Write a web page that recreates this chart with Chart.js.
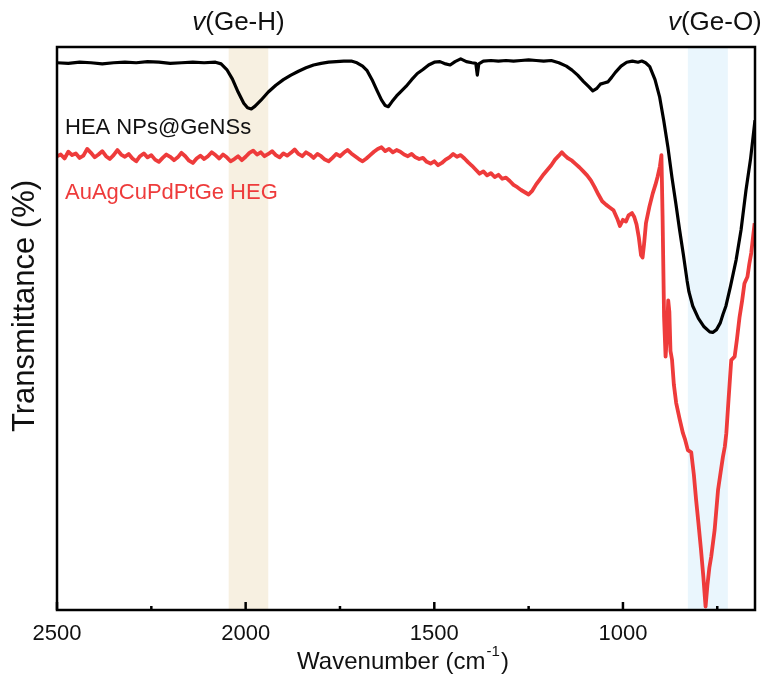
<!DOCTYPE html>
<html>
<head>
<meta charset="utf-8">
<script src="https://cdn.jsdelivr.net/npm/chart.js@4.4.1/dist/chart.umd.min.js"></script>
<style>
body { margin: 0; background: #fff; }
#wrap { width: 769px; height: 676px; position: relative; }
</style>
</head>
<body>
<div id="wrap"><canvas id="ftir"></canvas></div>
<script>
// wavenumber (cm-1) and transmittance (arb. %, 0-100 of the frame)
const blackWn = [2500, 2470, 2440, 2410, 2380, 2350, 2320, 2290, 2260, 2230, 2200, 2170, 2140, 2110, 2080, 2065, 2050, 2035, 2020, 2005, 1995, 1985, 1975, 1960, 1940, 1920, 1900, 1880, 1860, 1840, 1820, 1800, 1780, 1760, 1740, 1720, 1705, 1690, 1678, 1665, 1652, 1640, 1630, 1622, 1612, 1600, 1590, 1575, 1560, 1545, 1530, 1515, 1500, 1485, 1470, 1458, 1445, 1430, 1415, 1400, 1390, 1386, 1382, 1370, 1350, 1330, 1310, 1290, 1270, 1250, 1230, 1210, 1190, 1170, 1150, 1135, 1120, 1105, 1090, 1080, 1070, 1060, 1050, 1040, 1030, 1020, 1005, 990, 975, 960, 950, 940, 929, 915, 903, 892, 881, 870, 860, 850, 840, 830, 825, 815, 800, 785, 770, 762, 752, 742, 735, 727, 715, 700, 687, 674, 662, 656, 650];
const blackT = [97.2, 97.1, 97.3, 97.2, 97.0, 97.2, 97.3, 97.2, 97.4, 97.3, 97.1, 97.2, 97.3, 97.2, 97.3, 97.0, 96.0, 94.3, 92.0, 90.0, 89.2, 89.0, 89.5, 90.5, 92.0, 93.2, 94.2, 95.0, 95.7, 96.3, 96.8, 97.1, 97.3, 97.4, 97.5, 97.5, 97.2, 96.6, 95.8, 94.2, 92.3, 90.6, 89.6, 89.4, 90.3, 91.3, 92.0, 93.0, 94.2, 95.3, 96.0, 96.8, 97.3, 97.4, 97.0, 96.8, 97.4, 97.9, 97.4, 97.2, 97.1, 95.0, 97.0, 97.5, 97.6, 97.5, 97.6, 97.5, 97.6, 97.7, 97.6, 97.5, 97.6, 97.2, 96.6, 95.9, 95.0, 93.9, 92.9, 92.2, 92.6, 93.4, 93.6, 93.8, 94.6, 95.5, 96.6, 97.3, 97.5, 97.3, 97.5, 97.2, 96.5, 94.2, 91.2, 87.0, 82.3, 76.8, 72.3, 67.6, 63.2, 58.5, 56.5, 54.0, 51.8, 50.3, 49.4, 49.3, 49.8, 51.0, 52.5, 54.0, 57.5, 62.2, 67.5, 74.5, 80.0, 83.5, 87.0];

const redWn = [2500, 2490, 2480, 2470, 2460, 2450, 2440, 2430, 2420, 2410, 2400, 2390, 2380, 2370, 2360, 2350, 2340, 2330, 2320, 2310, 2300, 2290, 2280, 2270, 2260, 2250, 2240, 2230, 2220, 2210, 2200, 2190, 2180, 2170, 2160, 2150, 2140, 2130, 2120, 2110, 2100, 2090, 2080, 2070, 2060, 2050, 2040, 2030, 2020, 2010, 2000, 1990, 1980, 1970, 1960, 1950, 1940, 1930, 1920, 1910, 1900, 1890, 1880, 1870, 1860, 1850, 1840, 1830, 1820, 1810, 1800, 1790, 1780, 1770, 1760, 1750, 1740, 1730, 1720, 1710, 1700, 1690, 1680, 1670, 1660, 1650, 1640, 1630, 1620, 1610, 1600, 1590, 1580, 1570, 1560, 1550, 1540, 1530, 1520, 1510, 1500, 1490, 1480, 1470, 1460, 1450, 1440, 1430, 1420, 1410, 1400, 1390, 1380, 1370, 1360, 1350, 1340, 1330, 1320, 1310, 1300, 1290, 1280, 1270, 1260, 1250, 1240, 1230, 1220, 1210, 1200, 1190, 1180, 1170, 1162, 1155, 1145, 1135, 1125, 1115, 1105, 1095, 1085, 1075, 1065, 1055, 1045, 1035, 1025, 1015, 1008, 1000, 992, 985, 976, 970, 964, 958, 952, 948, 944, 939, 930, 921, 914, 908, 902, 898, 895, 891, 887, 884, 880, 877, 874, 870, 865, 859, 850, 841, 835, 828, 819, 812, 806, 800, 793, 787, 781, 776, 771, 766, 757, 748, 741, 735, 730, 726, 720, 713, 704, 698, 691, 684, 678, 670, 665, 660, 651];
const redT = [80.6, 80.9, 80.2, 81.4, 80.8, 81.1, 80.3, 80.7, 81.9, 81.2, 80.4, 80.9, 81.5, 80.6, 80.1, 80.8, 81.7, 80.9, 80.5, 81.0, 80.2, 79.7, 80.6, 81.1, 80.4, 80.8, 80.0, 79.6, 80.3, 80.9, 80.5, 79.9, 80.4, 81.2, 80.6, 79.8, 79.4, 80.2, 80.7, 80.1, 80.6, 81.3, 80.8, 80.2, 80.9, 80.4, 79.7, 80.1, 80.6, 79.9, 80.5, 81.2, 81.6, 80.9, 81.3, 80.6, 81.0, 81.5, 80.8, 80.4, 81.1, 80.7, 81.2, 81.8, 81.0, 80.6, 81.3, 80.9, 80.3, 81.0, 80.6, 80.0, 79.7, 80.3, 81.0, 80.6, 81.2, 81.7, 81.1, 80.6, 80.1, 79.7, 80.2, 80.8, 81.4, 81.9, 82.2, 81.5, 81.9, 81.3, 81.7, 81.4, 80.9, 80.6, 81.0, 80.4, 80.1, 80.3, 79.6, 79.3, 79.7, 79.0, 79.4, 80.0, 80.4, 81.0, 80.5, 80.8, 80.2, 79.5, 78.9, 78.2, 77.5, 77.9, 77.2, 77.6, 76.9, 77.3, 76.6, 76.8, 76.2, 75.5, 75.1, 74.6, 74.2, 73.8, 74.5, 75.6, 76.5, 77.4, 78.2, 79.0, 80.0, 80.7, 81.3, 80.8, 80.2, 79.8, 79.2, 78.6, 77.9, 77.2, 76.3, 75.1, 73.8, 72.6, 72.0, 71.5, 71.0, 69.5, 68.2, 69.3, 69.0, 70.1, 70.5, 69.8, 68.5, 66.2, 63.0, 62.6, 65.0, 68.7, 71.6, 74.0, 75.5, 77.0, 78.8, 80.8, 70.0, 52.0, 45.0, 48.0, 55.0, 53.0, 46.0, 44.5, 40.0, 36.8, 34.0, 31.4, 30.2, 28.4, 28.0, 24.0, 19.5, 15.5, 10.6, 6.0, 0.6, 4.5, 7.5, 9.5, 14.2, 21.3, 24.5, 27.2, 29.0, 31.4, 37.5, 44.4, 45.0, 48.0, 52.0, 55.0, 58.0, 59.2, 61.5, 63.4, 68.7];

const seriesNames = ['HEA NPs@GeNSs', 'AuAgCuPdPtGe HEG'];
const majorTicks = [2500, 2000, 1500, 1000];
const minorTicks = [2250, 1750, 1250, 750];
const bandGeH = [2045, 1940];
const bandGeO = [828, 722];

function pts(xs, ys) {
  return xs.map((x, i) => ({ x: x, y: ys[i] }));
}

const FONT = '"Liberation Sans", Arial, sans-serif';

const decor = {
  id: 'decor',
  beforeDatasetsDraw(chart) {
    const { ctx, chartArea: a, scales: { x } } = chart;
    ctx.save();
    ctx.fillStyle = '#f7f0e1';
    let l = x.getPixelForValue(bandGeH[0]), r = x.getPixelForValue(bandGeH[1]);
    ctx.fillRect(l, a.top, r - l, a.bottom - a.top);
    ctx.fillStyle = '#eaf6fd';
    l = x.getPixelForValue(bandGeO[0]); r = x.getPixelForValue(bandGeO[1]);
    ctx.fillRect(l, a.top, r - l, a.bottom - a.top);
    ctx.restore();
  },
  afterDatasetsDraw(chart) {
    const { ctx, chartArea: a, scales: { x } } = chart;
    ctx.save();
    // frame
    ctx.strokeStyle = '#000';
    ctx.lineWidth = 2.5;
    ctx.strokeRect(a.left, a.top, a.right - a.left, a.bottom - a.top);
    // inward ticks
    majorTicks.forEach(v => {
      const px = x.getPixelForValue(v);
      ctx.beginPath(); ctx.moveTo(px, a.bottom); ctx.lineTo(px, a.bottom - 8); ctx.stroke();
    });
    minorTicks.forEach(v => {
      const px = x.getPixelForValue(v);
      ctx.beginPath(); ctx.moveTo(px, a.bottom); ctx.lineTo(px, a.bottom - 4); ctx.stroke();
    });
    // tick labels
    ctx.fillStyle = '#111';
    ctx.font = '22px ' + FONT;
    ctx.textAlign = 'center';
    ctx.textBaseline = 'middle';
    majorTicks.forEach(v => ctx.fillText(String(v), x.getPixelForValue(v), a.bottom + 24));

    // x title with superscript
    const main = 'Wavenumber (cm', sup = '-1', end = ')';
    ctx.font = '24px ' + FONT;
    const w1 = ctx.measureText(main).width, w3 = ctx.measureText(end).width;
    ctx.font = '15px ' + FONT;
    const w2 = ctx.measureText(sup).width;
    let sx = (a.left + a.right) / 2 - 4 - (w1 + w2 + w3) / 2;
    const ty = a.bottom + 52;
    ctx.textAlign = 'left';
    ctx.font = '24px ' + FONT;
    ctx.fillText(main, sx, ty);
    ctx.font = '15px ' + FONT;
    ctx.fillText(sup, sx + w1 + 1, ty - 10);
    ctx.font = '24px ' + FONT;
    ctx.fillText(end, sx + w1 + w2 + 2, ty);

    // y title
    ctx.save();
    ctx.translate(25, 306);
    ctx.rotate(-Math.PI / 2);
    ctx.textAlign = 'center';
    ctx.font = '31px ' + FONT;
    ctx.fillText('Transmittance (%)', 0, 0);
    ctx.restore();

    // band labels
    function nuLabel(text, cx, cy) {
      ctx.font = 'italic 26px ' + FONT;
      const wv = ctx.measureText('v').width;
      ctx.font = '26px ' + FONT;
      const wt = ctx.measureText(text).width;
      const s = cx - (wv + wt) / 2;
      ctx.textAlign = 'left';
      ctx.font = 'italic 26px ' + FONT;
      ctx.fillText('v', s, cy);
      ctx.font = '26px ' + FONT;
      ctx.fillText(text, s + wv, cy);
    }
    ctx.fillStyle = '#111';
    nuLabel('(Ge-H)', x.getPixelForValue((bandGeH[0] + bandGeH[1]) / 2) - 10, 23);
    nuLabel('(Ge-O)', x.getPixelForValue((bandGeO[0] + bandGeO[1]) / 2) + 7, 23);

    // series labels
    ctx.textAlign = 'left';
    ctx.font = '22px ' + FONT;
    ctx.fillStyle = '#111';
    ctx.fillText(seriesNames[0], a.left + 8, 128);
    ctx.fillStyle = '#ee3b3b';
    ctx.fillText(seriesNames[1], a.left + 8, 193);
    ctx.restore();
  }
};

new Chart(document.getElementById('ftir'), {
  type: 'line',
  data: {
    datasets: [
      {
        label: seriesNames[0],
        data: pts(blackWn, blackT),
        borderColor: '#000',
        borderWidth: 3.2,
        borderJoinStyle: 'round',
        pointRadius: 0,
        tension: 0
      },
      {
        label: seriesNames[1],
        data: pts(redWn, redT),
        borderColor: '#ee3b3b',
        borderWidth: 3.8,
        borderJoinStyle: 'round',
        pointRadius: 0,
        tension: 0
      }
    ]
  },
  options: {
    responsive: true,
    maintainAspectRatio: false,
    animation: false,
    layout: { padding: { left: 57, right: 14, top: 47, bottom: 66 } },
    plugins: { legend: { display: false }, tooltip: { enabled: false } },
    scales: {
      x: { type: 'linear', reverse: true, min: 650, max: 2500, display: false },
      y: { min: 0, max: 100, display: false }
    }
  },
  plugins: [decor]
});
</script>
</body>
</html>
